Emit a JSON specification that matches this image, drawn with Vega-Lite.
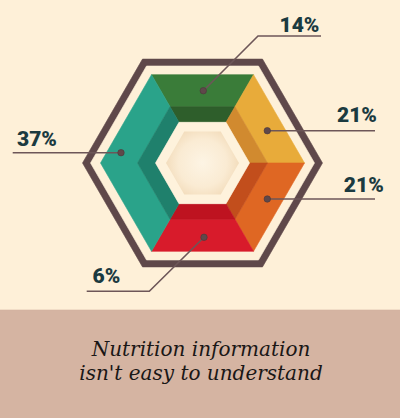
{
  "$schema": "https://vega.github.io/schema/vega-lite/v6.json",
  "width": 400,
  "height": 418,
  "padding": 0,
  "autosize": "none",
  "background": "#FEF0D8",
  "config": {"view": {"stroke": null}},
  "projection": {"type": "identity", "reflectY": true, "scale": 1, "translate": [202.5, 163]},
  "datasets": {
    "shapes": [
      {"type": "Feature", "properties": {"part": "band"}, "geometry": {"type": "Polygon", "coordinates": [[[-204, -147], [199, -147], [199, -257], [-204, -257], [-204, -147]]]}},
      {"type": "Feature", "properties": {"part": "frameOuter"}, "geometry": {"type": "Polygon", "coordinates": [[[120, 0], [60, 103.92], [-60, 103.92], [-120, 0], [-60, -103.92], [60, -103.92], [120, 0]]]}},
      {"type": "Feature", "properties": {"part": "gap"}, "geometry": {"type": "Polygon", "coordinates": [[[112, 0], [56, 96.99], [-56, 96.99], [-112, 0], [-56, -96.99], [56, -96.99], [112, 0]]]}},
      {"type": "Feature", "properties": {"part": "green"}, "geometry": {"type": "Polygon", "coordinates": [[[51, 88.33], [-51, 88.33], [-32.5, 56.29], [32.5, 56.29], [51, 88.33]]]}},
      {"type": "Feature", "properties": {"part": "greenDark"}, "geometry": {"type": "Polygon", "coordinates": [[[32.5, 56.29], [-32.5, 56.29], [-23.5, 40.7], [23.5, 40.7], [32.5, 56.29]]]}},
      {"type": "Feature", "properties": {"part": "yellow"}, "geometry": {"type": "Polygon", "coordinates": [[[102, 0], [51, 88.33], [32.5, 56.29], [65, 0], [102, 0]]]}},
      {"type": "Feature", "properties": {"part": "yellowDark"}, "geometry": {"type": "Polygon", "coordinates": [[[65, 0], [32.5, 56.29], [23.5, 40.7], [47, 0], [65, 0]]]}},
      {"type": "Feature", "properties": {"part": "orange"}, "geometry": {"type": "Polygon", "coordinates": [[[51, -88.33], [102, 0], [65, 0], [32.5, -56.29], [51, -88.33]]]}},
      {"type": "Feature", "properties": {"part": "orangeDark"}, "geometry": {"type": "Polygon", "coordinates": [[[32.5, -56.29], [65, 0], [47, 0], [23.5, -40.7], [32.5, -56.29]]]}},
      {"type": "Feature", "properties": {"part": "red"}, "geometry": {"type": "Polygon", "coordinates": [[[-51, -88.33], [51, -88.33], [32.5, -56.29], [-32.5, -56.29], [-51, -88.33]]]}},
      {"type": "Feature", "properties": {"part": "redDark"}, "geometry": {"type": "Polygon", "coordinates": [[[-32.5, -56.29], [32.5, -56.29], [23.5, -40.7], [-23.5, -40.7], [-32.5, -56.29]]]}},
      {"type": "Feature", "properties": {"part": "teal"}, "geometry": {"type": "Polygon", "coordinates": [[[-51, 88.33], [-102, 0], [-51, -88.33], [-32.5, -56.29], [-65, 0], [-32.5, 56.29], [-51, 88.33]]]}},
      {"type": "Feature", "properties": {"part": "tealDark"}, "geometry": {"type": "Polygon", "coordinates": [[[-32.5, 56.29], [-65, 0], [-32.5, -56.29], [-23.5, -40.7], [-47, 0], [-23.5, 40.7], [-32.5, 56.29]]]}},
      {"type": "Feature", "properties": {"part": "core"}, "geometry": {"type": "Polygon", "coordinates": [[[47, 0], [23.5, 40.7], [-23.5, 40.7], [-47, 0], [-23.5, -40.7], [23.5, -40.7], [47, 0]]]}}
    ],
    "center": [
      {"type": "Feature", "properties": {"part": "centre"}, "geometry": {"type": "Polygon", "coordinates": [[[36.5, 0], [18.25, 31.61], [-18.25, 31.61], [-36.5, 0], [-18.25, -31.61], [18.25, -31.61], [36.5, 0]]]}}
    ],
    "leaders": [
      {"type": "Feature", "properties": {"label": "14%"}, "geometry": {"type": "LineString", "coordinates": [[118.5, 127], [55.5, 127], [0.8, 72.3]]}},
      {"type": "Feature", "properties": {"label": "21% a"}, "geometry": {"type": "LineString", "coordinates": [[172.5, 32.3], [64.8, 32.3]]}},
      {"type": "Feature", "properties": {"label": "21% b"}, "geometry": {"type": "LineString", "coordinates": [[172.5, -36], [64.8, -36]]}},
      {"type": "Feature", "properties": {"label": "37%"}, "geometry": {"type": "LineString", "coordinates": [[-189.8, 10.3], [-81.5, 10.3]]}},
      {"type": "Feature", "properties": {"label": "6%"}, "geometry": {"type": "LineString", "coordinates": [[-115.8, -128.3], [-53.2, -128.3], [1.5, -74.3]]}}
    ],
    "labels": [
      {"label": "14%", "value": 14, "labelX": 97, "labelY": 131, "dotX": 0.8, "dotY": 72.3},
      {"label": "21%", "value": 21, "labelX": 154.5, "labelY": 41.3, "dotX": 64.8, "dotY": 32.3},
      {"label": "21%", "value": 21, "labelX": 161.3, "labelY": -28.7, "dotX": 64.8, "dotY": -36},
      {"label": "37%", "value": 37, "labelX": -165.5, "labelY": 17.3, "dotX": -81.5, "dotY": 10.3},
      {"label": "6%", "value": 6, "labelX": -96, "labelY": -120, "dotX": 1.5, "dotY": -74.3}
    ],
    "title": [
      {"line": "Nutrition information", "tx": -1.5, "ty": -193},
      {"line": "isn't easy to understand", "tx": -1.5, "ty": -217}
    ]
  },
  "layer": [
    {
      "data": {"name": "shapes"},
      "mark": {"type": "geoshape", "strokeWidth": 0.6},
      "encoding": {
        "color": {
          "field": "properties.part", "type": "nominal", "legend": null,
          "scale": {
            "domain": ["band", "frameOuter", "gap", "green", "greenDark", "yellow", "yellowDark", "orange", "orangeDark", "red", "redDark", "teal", "tealDark", "core"],
            "range": ["#D5B4A2", "#5F484A", "#FEF0D8", "#3A7C39", "#2E5E2B", "#E8AB3A", "#D18A2F", "#DF6723", "#C24E1C", "#D81B2B", "#BE1320", "#2AA38A", "#1F806C", "#FEF2DC"]
          }
        },
        "stroke": {"field": "properties.part", "type": "nominal", "legend": null,
          "scale": {
            "domain": ["band", "frameOuter", "gap", "green", "greenDark", "yellow", "yellowDark", "orange", "orangeDark", "red", "redDark", "teal", "tealDark", "core"],
            "range": ["#D5B4A2", "#5F484A", "#FEF0D8", "#3A7C39", "#2E5E2B", "#E8AB3A", "#D18A2F", "#DF6723", "#C24E1C", "#D81B2B", "#BE1320", "#2AA38A", "#1F806C", "#FEF2DC"]
          }
        }
      }
    },
    {
      "data": {"name": "center"},
      "mark": {"type": "geoshape", "strokeWidth": 0,
        "fill": {"gradient": "radial", "x1": 0.5, "y1": 0.5, "r1": 0, "x2": 0.5, "y2": 0.5, "r2": 0.55,
          "stops": [{"offset": 0, "color": "#FDF4E4"}, {"offset": 0.6, "color": "#FAEBD3"}, {"offset": 1, "color": "#F1D9B6"}]}},
      "encoding": {}
    },
    {
      "data": {"name": "leaders"},
      "mark": {"type": "geoshape", "filled": false, "stroke": "#6D5658", "strokeWidth": 1.6},
      "encoding": {}
    },
    {
      "data": {"name": "labels"},
      "mark": {"type": "circle", "size": 42, "opacity": 1, "fill": "#5F484A", "stroke": "#4A3739", "strokeWidth": 0.6},
      "encoding": {
        "longitude": {"field": "dotX", "type": "quantitative"},
        "latitude": {"field": "dotY", "type": "quantitative"}
      }
    },
    {
      "data": {"name": "labels"},
      "mark": {"type": "text", "align": "center", "baseline": "alphabetic", "font": "Roboto", "fontWeight": 900, "fontSize": 21, "fill": "#1B3A40"},
      "encoding": {
        "longitude": {"field": "labelX", "type": "quantitative"},
        "latitude": {"field": "labelY", "type": "quantitative"},
        "text": {"field": "label", "type": "nominal"}
      }
    },
    {
      "data": {"name": "title"},
      "mark": {"type": "text", "align": "center", "baseline": "alphabetic", "font": "DejaVu Serif", "fontStyle": "italic", "fontSize": 20, "fill": "#1A1716"},
      "encoding": {
        "longitude": {"field": "tx", "type": "quantitative"},
        "latitude": {"field": "ty", "type": "quantitative"},
        "text": {"field": "line", "type": "nominal"}
      }
    }
  ]
}
